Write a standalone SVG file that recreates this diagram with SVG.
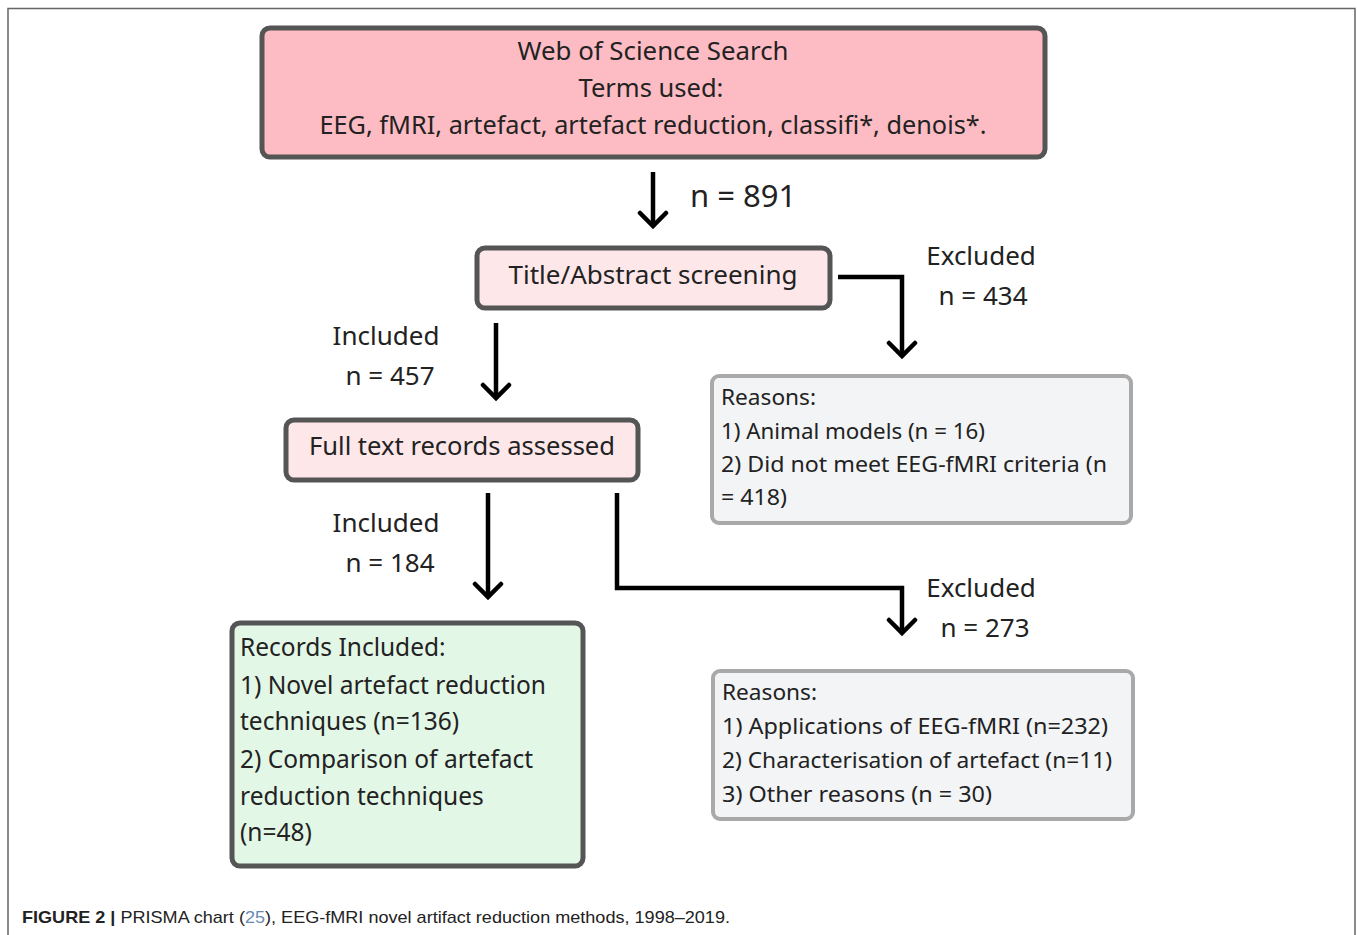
<svg xmlns="http://www.w3.org/2000/svg" width="1357" height="935" viewBox="0 0 1357 935">
<defs>
<marker id="chev" markerUnits="userSpaceOnUse" viewBox="-16 -16 20 32" markerWidth="20" markerHeight="32" refX="0" refY="0" orient="auto">
<path d="M-13,-13 L0,0 L-13,13" fill="none" stroke="#000" stroke-width="4.5" stroke-linecap="round" stroke-linejoin="miter"/>
</marker>
<style>
.t{font-family:"Noto Sans","DejaVu Sans",sans-serif;fill:#222;}
.big{font-size:25.5px;}
.lbl{font-size:26px;}
.sm{font-size:22px;}
.grn{font-size:24.5px;}
.pink{fill:#fdbcc3;stroke:#555;stroke-width:5;}
.lpink{fill:#fde7e9;stroke:#555;stroke-width:5;}
.gray{fill:#f2f4f6;stroke:#a9a9a9;stroke-width:4;}
.green{fill:#e3f7e7;stroke:#555;stroke-width:5;}
.ln{fill:none;stroke:#000;stroke-width:4.5;}
.cap{font-family:"Liberation Sans",Arial,sans-serif;font-size:17px;fill:#222;}
</style>
</defs>
<rect width="1357" height="935" fill="#fff"/>
<path d="M8,935 L8,8.5 L1355,8.5 L1355,935" fill="none" stroke="#666" stroke-width="1.5"/>

<g id="connectors">
<path class="ln" d="M653,172 L653,226" marker-end="url(#chev)"/>
<path class="ln" d="M838,277 L902,277 L902,356" marker-end="url(#chev)"/>
<path class="ln" d="M496,323 L496,398" marker-end="url(#chev)"/>
<path class="ln" d="M488,493 L488,597" marker-end="url(#chev)"/>
<path class="ln" d="M617,493 L617,588 L902,588 L902,633" marker-end="url(#chev)"/>
<text class="t" x="690" y="207" font-size="31">n = 891</text>
<text class="t lbl" x="981" y="265" text-anchor="middle">Excluded</text>
<text class="t lbl" x="983" y="305" text-anchor="middle">n = 434</text>
<text class="t lbl" x="386" y="345" text-anchor="middle">Included</text>
<text class="t lbl" x="390" y="385" text-anchor="middle">n = 457</text>
<text class="t lbl" x="386" y="532" text-anchor="middle">Included</text>
<text class="t lbl" x="390" y="572" text-anchor="middle">n = 184</text>
<text class="t lbl" x="981" y="597" text-anchor="middle">Excluded</text>
<text class="t lbl" x="985" y="637" text-anchor="middle">n = 273</text>
</g>

<g id="search">
<rect class="pink" x="262" y="28" width="783" height="129" rx="8"/>
<text class="t big" x="653" y="60" text-anchor="middle" textLength="271" lengthAdjust="spacingAndGlyphs">Web of Science Search</text>
<text class="t big" x="651" y="97" text-anchor="middle">Terms used:</text>
<text class="t big" x="653" y="134" text-anchor="middle" textLength="667" lengthAdjust="spacingAndGlyphs">EEG, fMRI, artefact, artefact reduction, classifi*, denois*.</text>
</g>

<g id="screening">
<rect class="lpink" x="477" y="248" width="353" height="60" rx="8"/>
<text class="t big" x="653" y="284" text-anchor="middle" textLength="289" lengthAdjust="spacingAndGlyphs">Title/Abstract screening</text>
</g>

<g id="excluded1">
<rect class="gray" x="712" y="376" width="419" height="147" rx="7"/>
<text class="t sm" x="721" y="405" textLength="95" lengthAdjust="spacingAndGlyphs">Reasons:</text>
<text class="t sm" x="721" y="439" textLength="264" lengthAdjust="spacingAndGlyphs">1) Animal models (n = 16)</text>
<text class="t sm" x="721" y="472" textLength="386" lengthAdjust="spacingAndGlyphs">2) Did not meet EEG-fMRI criteria (n</text>
<text class="t sm" x="721" y="505" textLength="66" lengthAdjust="spacingAndGlyphs">= 418)</text>
</g>

<g id="fulltext">
<rect class="lpink" x="286" y="420" width="352" height="60" rx="8"/>
<text class="t big" x="462" y="455" text-anchor="middle" textLength="306" lengthAdjust="spacingAndGlyphs">Full text records assessed</text>
</g>

<g id="included">
<rect class="green" x="232" y="623" width="351" height="243" rx="8"/>
<text class="t grn" x="240" y="656">Records Included:</text>
<text class="t grn" x="240" y="694">1) Novel artefact reduction</text>
<text class="t grn" x="240" y="730">techniques (n=136)</text>
<text class="t grn" x="240" y="768">2) Comparison of artefact</text>
<text class="t grn" x="240" y="805">reduction techniques</text>
<text class="t grn" x="240" y="841">(n=48)</text>
</g>

<g id="excluded2">
<rect class="gray" x="713" y="671" width="420" height="148" rx="7"/>
<text class="t sm" x="722" y="700" textLength="95" lengthAdjust="spacingAndGlyphs">Reasons:</text>
<text class="t sm" x="722" y="734" textLength="386" lengthAdjust="spacingAndGlyphs">1) Applications of EEG-fMRI (n=232)</text>
<text class="t sm" x="722" y="768" textLength="390" lengthAdjust="spacingAndGlyphs">2) Characterisation of artefact (n=11)</text>
<text class="t sm" x="722" y="802" textLength="270" lengthAdjust="spacingAndGlyphs">3) Other reasons (n = 30)</text>
</g>

<g id="caption">
<text class="cap" x="22" y="923" textLength="708" lengthAdjust="spacingAndGlyphs"><tspan font-weight="bold">FIGURE 2 |</tspan> PRISMA chart (<tspan fill="#6a8bb0">25</tspan>), EEG-fMRI novel artifact reduction methods, 1998–2019.</text>
</g>
</svg>
